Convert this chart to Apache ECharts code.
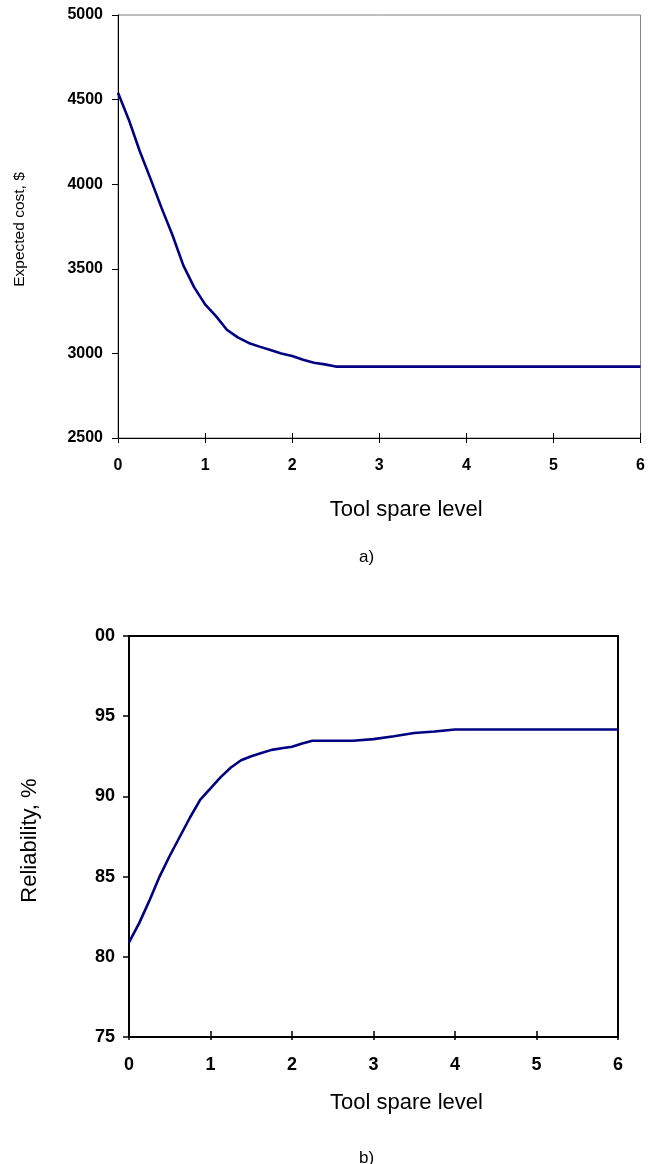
<!DOCTYPE html>
<html>
<head>
<meta charset="utf-8">
<script src="https://cdn.jsdelivr.net/npm/echarts@6/dist/echarts.min.js"></script>
<style>
  html, body { margin: 0; padding: 0; background: #ffffff; }
  #chart { width: 648px; height: 1164px; }
</style>
</head>
<body>
<div id="chart"></div>
<script>
// a) expected cost vs tool spare level
var costLevels = [0, 0.125, 0.25, 0.375, 0.5, 0.625, 0.75, 0.875, 1, 1.125, 1.25, 1.375, 1.5, 1.625, 1.75, 1.875, 2, 2.125, 2.25, 2.375, 2.5, 3, 4, 5, 6];
var costValues = [4540, 4380, 4195, 4030, 3860, 3700, 3520, 3390, 3290, 3220, 3140, 3095, 3062, 3040, 3020, 3000, 2985, 2962, 2945, 2935, 2922, 2922, 2922, 2922, 2922];

// b) reliability vs tool spare level
var relLevels = [0, 0.125, 0.25, 0.375, 0.5, 0.625, 0.75, 0.875, 1, 1.125, 1.25, 1.375, 1.5, 1.625, 1.75, 1.875, 2, 2.125, 2.25, 2.5, 2.75, 3, 3.25, 3.5, 3.75, 4, 5, 6];
var relValues = [80.9, 82.1, 83.5, 85.0, 86.3, 87.5, 88.7, 89.8, 90.5, 91.2, 91.8, 92.25, 92.5, 92.7, 92.9, 93.0, 93.1, 93.3, 93.47, 93.47, 93.47, 93.57, 93.75, 93.95, 94.05, 94.17, 94.17, 94.17];

function zip(xs, ys) {
  var out = [];
  for (var i = 0; i < xs.length; i++) out.push([xs[i], ys[i]]);
  return out;
}

var font = 'Liberation Sans, Arial, sans-serif';
var chart = echarts.init(document.getElementById('chart'), null, { renderer: 'canvas' });

var option = {
  backgroundColor: '#ffffff',
  animation: false,
  textStyle: { fontFamily: font },
  title: [
    { text: 'a)', left: 354, top: 544, textStyle: { fontSize: 17, fontWeight: 'normal', color: '#000', fontFamily: font } },
    { text: 'b)', left: 354, top: 1145, textStyle: { fontSize: 17, fontWeight: 'normal', color: '#000', fontFamily: font } }
  ],
  grid: [
    { left: 118, top: 15, width: 523, height: 423, show: true, borderColor: '#808080', borderWidth: 1, backgroundColor: 'transparent' },
    { left: 129, top: 636, width: 489, height: 401, show: true, borderColor: '#000000', borderWidth: 2, backgroundColor: 'transparent' }
  ],
  xAxis: [
    {
      type: 'value', gridIndex: 0, position: 'bottom', min: 0, max: 6, interval: 1,
      name: 'Tool spare level', nameLocation: 'middle', nameGap: 61,
      nameTextStyle: { fontSize: 22, color: '#000', fontFamily: font, padding: [0, 0, 0, 54] },
      axisLine: { show: true, onZero: false, lineStyle: { color: '#000', width: 1 } },
      axisTick: { show: true, inside: true, length: 5, lineStyle: { color: '#000' } },
      axisLabel: { fontSize: 16, fontWeight: 'bold', color: '#000', margin: 20, fontFamily: font },
      splitLine: { show: false }
    },
    {
      type: 'value', gridIndex: 1, position: 'bottom', min: 0, max: 6, interval: 1,
      name: 'Tool spare level', nameLocation: 'middle', nameGap: 55,
      nameTextStyle: { fontSize: 22, color: '#000', fontFamily: font, padding: [0, 0, 0, 66] },
      axisLine: { show: true, onZero: false, lineStyle: { color: '#000', width: 2 } },
      axisTick: { show: true, inside: true, length: 6, lineStyle: { color: '#000', width: 1.5 } },
      axisLabel: { fontSize: 18, fontWeight: 'bold', color: '#000', margin: 19, fontFamily: font },
      splitLine: { show: false }
    },
    // outward halves of the crossing x ticks
    {
      type: 'value', gridIndex: 0, position: 'bottom', offset: 0, min: 0, max: 6, interval: 1,
      axisLine: { show: false }, axisLabel: { show: false }, splitLine: { show: false },
      axisTick: { show: true, inside: false, length: 5, lineStyle: { color: '#000' } }
    },
    {
      type: 'value', gridIndex: 1, position: 'bottom', offset: 0, min: 0, max: 6, interval: 1,
      axisLine: { show: false }, axisLabel: { show: false }, splitLine: { show: false },
      axisTick: { show: true, inside: false, length: 3, lineStyle: { color: '#000', width: 1.5 } }
    }
  ],
  yAxis: [
    {
      type: 'value', gridIndex: 0, min: 2500, max: 5000, interval: 500,
      name: 'Expected cost, $', nameLocation: 'middle', nameGap: 90,
      nameTextStyle: { fontSize: 15.5, color: '#000', fontFamily: font, padding: [0, 6, 0, 0] },
      axisLine: { show: true, onZero: false, lineStyle: { color: '#000', width: 1 } },
      axisTick: { show: true, inside: false, length: 6, lineStyle: { color: '#000' } },
      axisLabel: {
        fontSize: 16, fontWeight: 'bold', color: '#000', margin: 15, fontFamily: font,
        formatter: function (v) { return String(v); }
      },
      splitLine: { show: false }
    },
    {
      type: 'value', gridIndex: 1, min: 75, max: 100, interval: 5,
      name: 'Reliability, %', nameLocation: 'middle', nameGap: 88,
      nameTextStyle: { fontSize: 22, color: '#000', fontFamily: font, padding: [0, 8, 0, 0] },
      axisLine: { show: true, onZero: false, lineStyle: { color: '#000', width: 2 } },
      axisTick: { show: true, inside: false, length: 6, lineStyle: { color: '#000', width: 1.5 } },
      axisLabel: {
        fontSize: 18, fontWeight: 'bold', color: '#000', margin: 14, fontFamily: font,
        formatter: function (v) { return v === 100 ? '00' : String(v); }
      },
      splitLine: { show: false }
    }
  ],
  series: [
    {
      type: 'line', xAxisIndex: 0, yAxisIndex: 0,
      data: zip(costLevels, costValues),
      showSymbol: false, symbol: 'none',
      lineStyle: { color: '#000080', width: 2.6 }
    },
    {
      type: 'line', xAxisIndex: 1, yAxisIndex: 1,
      data: zip(relLevels, relValues),
      showSymbol: false, symbol: 'none',
      lineStyle: { color: '#000080', width: 2.6 }
    }
  ]
};

chart.setOption(option);
</script>
</body>
</html>
